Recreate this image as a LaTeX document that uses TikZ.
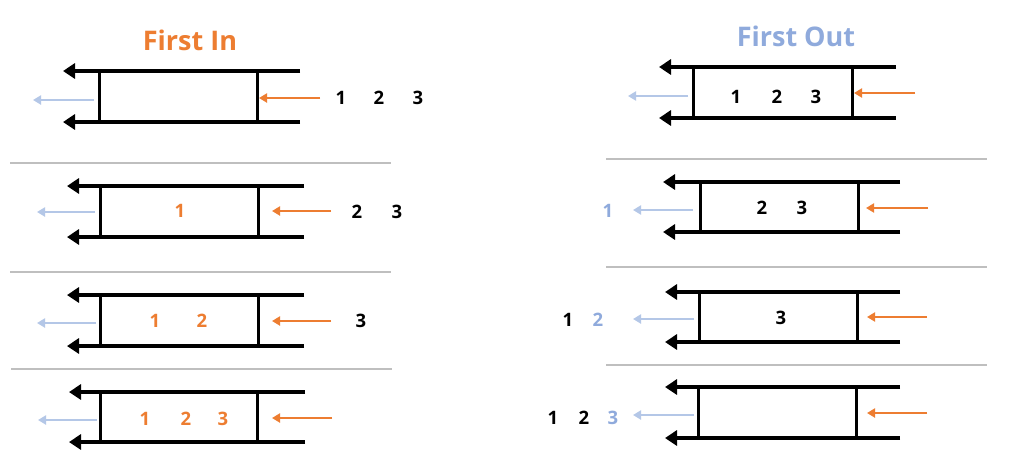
\documentclass[tikz,border=0pt]{standalone}
\usepackage{fontspec}
\setmainfont{Open Sans}
\usetikzlibrary{arrows.meta}
\definecolor{fiOrange}{HTML}{ED7D31}
\definecolor{foBlue}{HTML}{8FAADC}
\definecolor{arBlue}{HTML}{B4C7E7}
\definecolor{sepGray}{HTML}{BFBFBF}
\tikzset{
  x=1pt, y=-1pt,
  rail/.style={line width=4pt, -{Triangle[length=12pt,width=15pt]}},
  wall/.style={line width=3pt},
  inarrow/.style={draw=fiOrange, line width=2.6pt, -{Triangle[length=8pt,width=9pt]}},
  outarrow/.style={draw=arBlue, line width=2.6pt, -{Triangle[length=8pt,width=9pt]}},
  sep/.style={draw=sepGray, line width=1.3pt},
  num/.style={font=\bfseries\fontsize{18.5}{18.5}\selectfont, inner sep=0pt},
  title/.style={font=\bfseries\fontsize{27}{27}\selectfont, inner sep=0pt}
}
% #1 tip x, #2 rail end x, #3 left wall x, #4 right wall x, #5 top y, #6 bottom y, #7 name prefix
\newcommand\pipeunit[7]{%
  \coordinate (#7te) at (#2,#5); \coordinate (#7tt) at (#1,#5);
  \coordinate (#7be) at (#2,#6); \coordinate (#7bt) at (#1,#6);
  \coordinate (#7lt) at (#3,#5); \coordinate (#7lb) at (#3,#6);
  \coordinate (#7rt) at (#4,#5); \coordinate (#7rb) at (#4,#6);
  \draw[rail] (#7te) -- (#7tt);
  \draw[rail] (#7be) -- (#7bt);
  \draw[wall] (#7lt) -- (#7lb);
  \draw[wall] (#7rt) -- (#7rb);
}
\begin{document}
\begin{tikzpicture}
\useasboundingbox (0,0) rectangle (1011,461);
\fill[white] (0,0) rectangle (1011,461);

% titles
\node[title, text=fiOrange] (t1) at (190,40) {First In};
\node[title, text=foBlue] (t2) at (796,36) {First Out};

% separators
\coordinate (sl1a) at (10,163); \coordinate (sl1b) at (391,163);
\coordinate (sl2a) at (10,272); \coordinate (sl2b) at (391,272);
\coordinate (sl3a) at (11,369); \coordinate (sl3b) at (392,369);
\draw[sep] (sl1a) -- (sl1b);
\draw[sep] (sl2a) -- (sl2b);
\draw[sep] (sl3a) -- (sl3b);
\coordinate (sr1a) at (606,159); \coordinate (sr1b) at (987,159);
\coordinate (sr2a) at (606,267); \coordinate (sr2b) at (987,267);
\coordinate (sr3a) at (606,365); \coordinate (sr3b) at (987,365);
\draw[sep] (sr1a) -- (sr1b);
\draw[sep] (sr2a) -- (sr2b);
\draw[sep] (sr3a) -- (sr3b);

% ---------- Left column ----------
\pipeunit{63}{300}{99}{257}{71}{122}{La}
\coordinate (Laoi) at (320,98); \coordinate (Laoo) at (259,98);
\coordinate (Labi) at (94,100); \coordinate (Labo) at (33,100);
\draw[inarrow] (Laoi) -- (Laoo);
\draw[outarrow] (Labi) -- (Labo);
\node[num] (La1) at (341,98) {1};
\node[num] (La2) at (379,98) {2};
\node[num] (La3) at (418,98) {3};

\pipeunit{67}{304}{100}{258}{186}{237}{Lb}
\coordinate (Lboi) at (331,211); \coordinate (Lboo) at (272,211);
\coordinate (Lbbi) at (95,212); \coordinate (Lbbo) at (37,212);
\draw[inarrow] (Lboi) -- (Lboo);
\draw[outarrow] (Lbbi) -- (Lbbo);
\node[num, text=fiOrange] (Lb1) at (180,211) {1};
\node[num] (Lb2) at (357,212) {2};
\node[num] (Lb3) at (397,212) {3};

\pipeunit{67}{304}{100}{258}{295}{346}{Lc}
\coordinate (Lcoi) at (331,321); \coordinate (Lcoo) at (272,321);
\coordinate (Lcbi) at (96,323); \coordinate (Lcbo) at (37,323);
\draw[inarrow] (Lcoi) -- (Lcoo);
\draw[outarrow] (Lcbi) -- (Lcbo);
\node[num, text=fiOrange] (Lc1) at (155,321) {1};
\node[num, text=fiOrange] (Lc2) at (202,321) {2};
\node[num] (Lc3) at (361,321) {3};

\pipeunit{69}{305}{100}{257}{392}{442}{Ld}
\coordinate (Ldoi) at (332,418); \coordinate (Ldoo) at (272,418);
\coordinate (Ldbi) at (97,420); \coordinate (Ldbo) at (38,420);
\draw[inarrow] (Ldoi) -- (Ldoo);
\draw[outarrow] (Ldbi) -- (Ldbo);
\node[num, text=fiOrange] (Ld1) at (145,419) {1};
\node[num, text=fiOrange] (Ld2) at (186,419) {2};
\node[num, text=fiOrange] (Ld3) at (223,419) {3};

% ---------- Right column ----------
\pipeunit{659}{896}{693}{852}{67}{118}{Ra}
\coordinate (Raoi) at (915,93); \coordinate (Raoo) at (854,93);
\coordinate (Rabi) at (688,96); \coordinate (Rabo) at (628,96);
\draw[inarrow] (Raoi) -- (Raoo);
\draw[outarrow] (Rabi) -- (Rabo);
\node[num] (Ra1) at (736,97) {1};
\node[num] (Ra2) at (777,97) {2};
\node[num] (Ra3) at (816,97) {3};

\pipeunit{663}{900}{700}{858}{182}{232}{Rb}
\coordinate (Rboi) at (928,208); \coordinate (Rboo) at (866,208);
\coordinate (Rbbi) at (693,210); \coordinate (Rbbo) at (633,210);
\draw[inarrow] (Rboi) -- (Rboo);
\draw[outarrow] (Rbbi) -- (Rbbo);
\node[num, text=foBlue] (Rb1) at (608,211) {1};
\node[num] (Rb2) at (762,208) {2};
\node[num] (Rb3) at (802,208) {3};

\pipeunit{665}{900}{699}{857}{292}{342}{Rc}
\coordinate (Rcoi) at (927,317); \coordinate (Rcoo) at (867,317);
\coordinate (Rcbi) at (694,319); \coordinate (Rcbo) at (633,319);
\draw[inarrow] (Rcoi) -- (Rcoo);
\draw[outarrow] (Rcbi) -- (Rcbo);
\node[num] (Rc1) at (568,320) {1};
\node[num, text=foBlue] (Rc2) at (598,320) {2};
\node[num] (Rc3) at (781,318) {3};

\pipeunit{665}{900}{698}{856}{387}{438}{Rd}
\coordinate (Rdoi) at (927,413); \coordinate (Rdoo) at (867,413);
\coordinate (Rdbi) at (694,415); \coordinate (Rdbo) at (633,415);
\draw[inarrow] (Rdoi) -- (Rdoo);
\draw[outarrow] (Rdbi) -- (Rdbo);
\node[num] (Rd1) at (553,418) {1};
\node[num] (Rd2) at (584,418) {2};
\node[num, text=foBlue] (Rd3) at (613,418) {3};
\end{tikzpicture}
\end{document}
